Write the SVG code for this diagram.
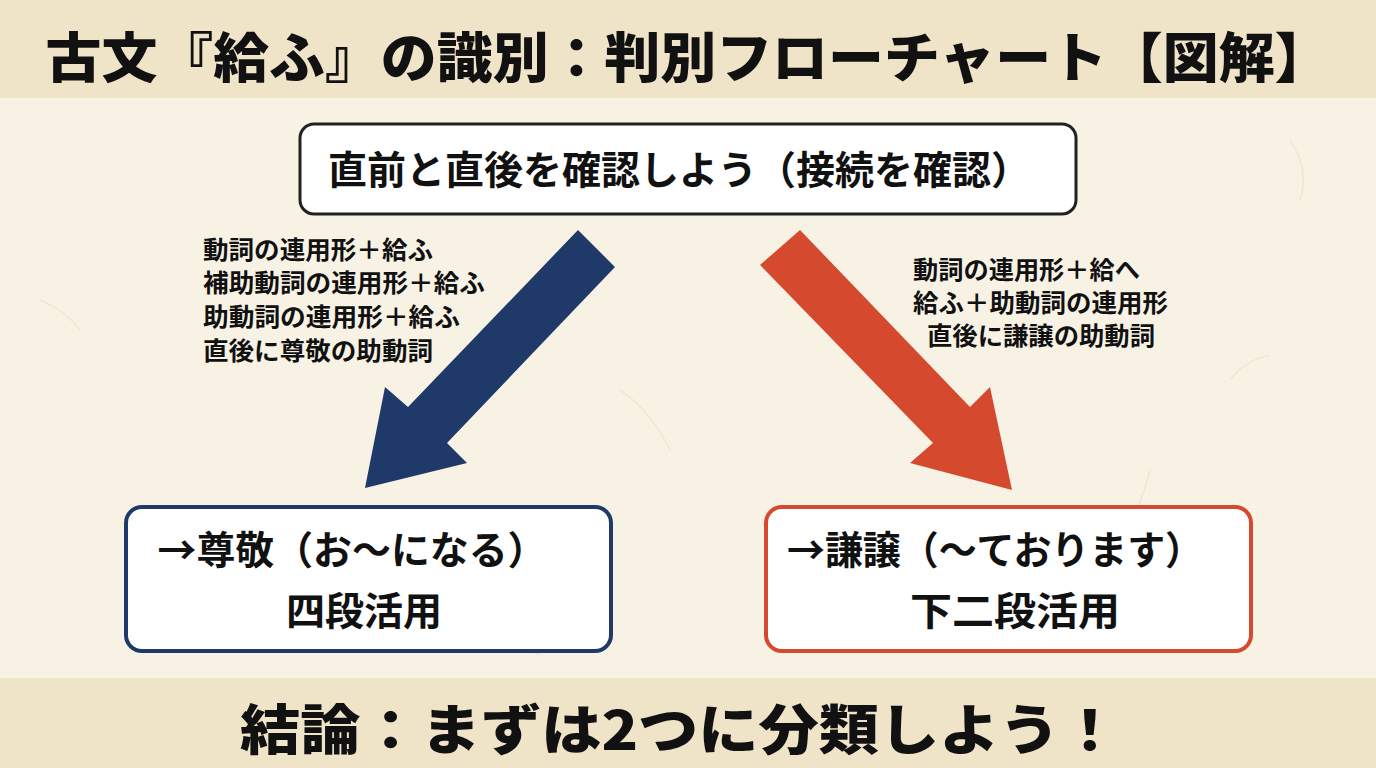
<svg xmlns="http://www.w3.org/2000/svg" width="1376" height="768" viewBox="0 0 1376 768">
<style>
text{font-family:"Noto Sans CJK JP","Noto Sans",sans-serif;font-weight:700;fill:#111}
.title{font-size:54px;font-weight:900}
.cond{font-size:25px}
.box{font-size:39px}
.fiber{fill:none;stroke:#e2cfa6;stroke-width:1.2;opacity:0.4}
</style>
<rect width="1376" height="768" fill="#f8f2e5"/>
<g id="texture">
<path class="fiber" d="M1290 140 q20 30 10 60"/>
<path class="fiber" d="M620 390 q30 20 50 60"/>
<path class="fiber" d="M1150 470 q-10 40 -30 70"/>
<path class="fiber" d="M40 300 q25 10 40 30"/>
<path class="fiber" d="M1230 380 q15 -20 40 -25"/>
<path class="fiber" d="M480 650 q30 -10 60 5"/>
</g>
<g id="header">
<rect x="0" y="0" width="1376" height="98" fill="#efe3c8"/>
<text class="title" x="688" y="78" text-anchor="middle" textLength="1285" lengthAdjust="spacingAndGlyphs">古文『給ふ』の識別：判別フローチャート【図解】</text>
</g>
<g id="footer">
<rect x="0" y="678" width="1376" height="90" fill="#efe3c8"/>
<text class="title" x="680" y="750" text-anchor="middle" textLength="880" lengthAdjust="spacingAndGlyphs">結論：まずは2つに分類しよう！</text>
</g>
<g id="connectors">
<polygon id="arrow-left" points="578,230 615,267 447,443 467,463 365,488 385,387 408,407" fill="#1f3a68"/>
<polygon id="arrow-right" points="800,230 970,407 990,387 1012,490 910,463 933,443 760,265" fill="#d54a2f"/>
</g>
<g id="node-start">
<rect x="300" y="124" width="776" height="90" rx="14" fill="#fff" stroke="#222" stroke-width="3"/>
<text x="679" y="184" text-anchor="middle" font-size="39" textLength="702" lengthAdjust="spacingAndGlyphs">直前と直後を確認しよう（接続を確認）</text>
</g>
<g id="label-left">
<text class="cond" x="203" y="259" textLength="230" lengthAdjust="spacingAndGlyphs">動詞の連用形＋給ふ</text>
<text class="cond" x="203" y="292" textLength="282" lengthAdjust="spacingAndGlyphs">補助動詞の連用形＋給ふ</text>
<text class="cond" x="203" y="326" textLength="257" lengthAdjust="spacingAndGlyphs">助動詞の連用形＋給ふ</text>
<text class="cond" x="203" y="360" textLength="230" lengthAdjust="spacingAndGlyphs">直後に尊敬の助動詞</text>
</g>
<g id="label-right">
<text class="cond" x="913" y="279" textLength="227" lengthAdjust="spacingAndGlyphs">動詞の連用形＋給へ</text>
<text class="cond" x="913" y="312" textLength="255" lengthAdjust="spacingAndGlyphs">給ふ＋助動詞の連用形</text>
<text class="cond" x="927" y="345" textLength="228" lengthAdjust="spacingAndGlyphs">直後に謙譲の助動詞</text>
</g>
<g id="node-sonkei">
<rect x="126" y="507" width="485" height="144" rx="16" fill="#fff" stroke="#1f3a68" stroke-width="4"/>
<text class="box" x="352" y="564" text-anchor="middle" textLength="389" lengthAdjust="spacingAndGlyphs">→尊敬（お〜になる）</text>
<text class="box" x="364" y="625" text-anchor="middle">四段活用</text>
</g>
<g id="node-kenjo">
<rect x="766" y="507" width="485" height="144" rx="16" fill="#fff" stroke="#d54a2f" stroke-width="4"/>
<text class="box" x="995" y="564" text-anchor="middle" textLength="416" lengthAdjust="spacingAndGlyphs">→謙譲（〜ております）</text>
<text class="box" x="1015" y="625" text-anchor="middle" textLength="210" lengthAdjust="spacingAndGlyphs">下二段活用</text>
</g>
</svg>
